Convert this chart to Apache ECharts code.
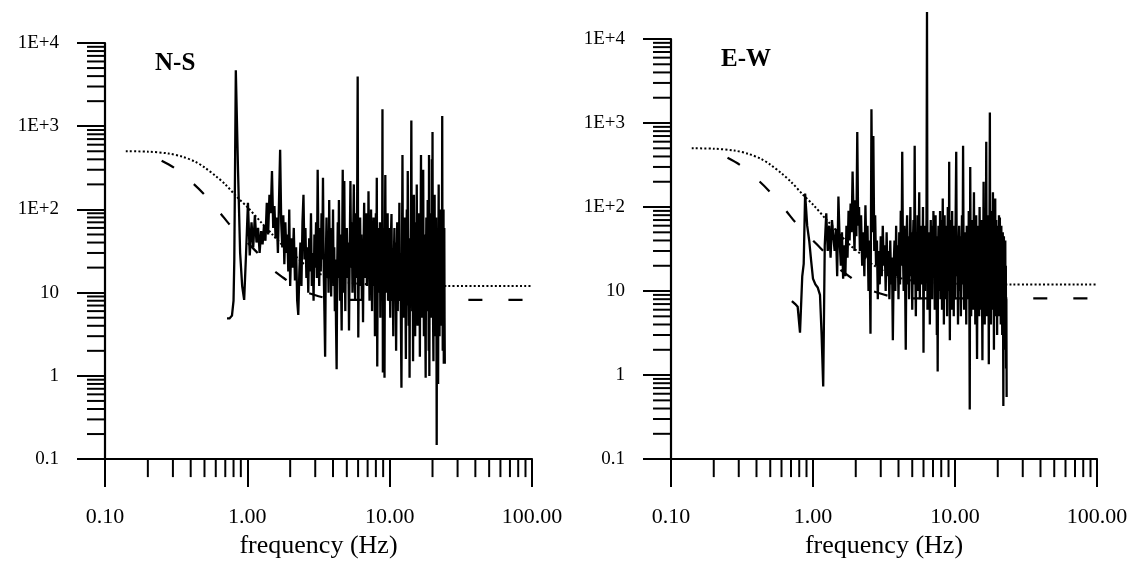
<!DOCTYPE html>
<html>
<head>
<meta charset="utf-8">
<script src="https://cdn.jsdelivr.net/npm/echarts/dist/echarts.min.js"></script>
<style>
html,body{margin:0;padding:0;background:#fff;}
#chart{width:1133px;height:564px;}
</style>
</head>
<body>
<div id="chart"></div>
<script>
// ---- data ----
const panelNames = ['N-S', 'E-W'];
const xTickLabels = ['0.10', '1.00', '10.00', '100.00'];
const yTickLabels = ['0.1', '1', '10', '1E+2', '1E+3', '1E+4'];
const minorMultipliers = [2, 3, 4, 5, 6, 7, 8, 9];
const xDecades = [0.1, 1, 10];
const yDecades = [0.1, 1, 10, 100, 1000];

// source model curves (same in both panels)
const modelDotted = [[0.14,500],[0.2,495],[0.28,470],[0.35,430],[0.43,375],[0.5,320],[0.6,252],[0.7,200],[0.85,140],[1.0,107],[1.25,70],[1.5,50],[1.8,36],[2.2,27],[2.6,21],[3.2,17],[4,14.5],[5,13.3],[7,12.6],[10,12.2],[15,12],[25,12],[100,12]];
const modelDashed = [[0.25,385],[0.31,312],[0.42,202],[0.5,150],[0.65,89],[0.75,66],[1.0,40],[1.18,30],[1.5,19],[1.8,15],[2.3,11],[2.9,9.5],[3.5,8.7],[4.9,8.2],[100,8.2]];

// N-S spectrum [frequency Hz, amplitude]
const nsSpectrum = [
[0.72,4.9],[0.75,4.9],[0.78,5.3],[0.80,8],[0.81,25],[0.83,4700],[0.86,300],[0.89,30],[0.92,12],[0.95,8.2],[0.98,30],[1.01,120],
[1.04,28],[1.07,70],[1.10,35],[1.13,85],[1.16,40],[1.19,60],[1.22,30],[1.25,55],[1.28,38],[1.31,65],[1.34,42],[1.37,120],[1.40,50],[1.43,150],[1.46,90],[1.49,290],[1.52,60],[1.55,110],[1.58,45],[1.61,80],[1.64,30],[1.67,130],[1.70,520],[1.73,70],[1.76,35],[1.79,85],[1.82,22],[1.85,70],[1.88,30],[1.91,50],[1.94,18],[1.97,100],[2.00,12],
[2.04,45],[2.08,20],[2.12,60],[2.16,14],[2.20,35],[2.24,8],[2.28,5.4],[2.32,18],[2.36,40],[2.40,12],[2.44,70],[2.48,150],[2.52,25],[2.56,60],[2.60,15],[2.64,35],[2.68,10],[2.72,45],[2.76,18],[2.80,90],[2.84,12],[2.88,30],[2.92,8],[2.96,50],[3.00,20],[3.04,70],[3.08,15],[3.12,300],[3.16,35],[3.20,12],[3.24,60],[3.28,18],[3.32,90],[3.36,25],[3.40,240],[3.44,20],[3.48,6],[3.52,1.7],[3.56,25],[3.60,80],[3.64,15],[3.68,45],[3.72,10],[3.76,130],[3.80,20],[3.84,60],[3.88,9],[3.92,40],[3.96,15],[4.00,100],[4.04,12],[4.08,35],[4.12,6],[4.16,25],[4.20,4],[4.24,1.2],[4.28,20],[4.32,70],[4.36,15],[4.40,130],[4.44,25],[4.48,8],[4.52,50],[4.56,12],[4.60,3.5],[4.64,40],[4.68,300],[4.72,30],[4.76,10],[4.80,220],[4.84,25],[4.88,6],[4.92,45],[4.96,15],
[5.00,60],[5.06,15],[5.12,40],[5.18,3.5],[5.24,30],[5.30,220],[5.36,20],[5.42,70],[5.48,10],[5.54,45],[5.60,200],[5.66,25],[5.72,8],[5.78,90],[5.84,15],[5.90,60],[5.96,3970],[6.02,2.9],[6.08,35],[6.14,12],[6.20,80],[6.26,20],[6.32,50],[6.38,8],[6.44,30],[6.50,4.4],[6.56,40],[6.62,120],[6.68,15],[6.74,60],[6.80,25],[6.86,90],[6.92,12],[6.98,45],[7.04,20],[7.10,165],[7.16,30],[7.22,8],[7.28,70],[7.34,15],[7.40,100],[7.46,25],[7.52,6],[7.58,50],[7.64,12],[7.70,80],[7.76,20],[7.82,40],[7.88,3],[7.94,30],[8.00,90],[8.06,15],[8.12,240],[8.18,1.3],[8.24,25],[8.30,60],[8.36,10],[8.42,45],[8.48,20],[8.54,70],[8.60,5],[8.66,35],[8.72,12],[8.78,50],[8.84,8],[8.90,1600],[8.96,1.1],[9.02,30],[9.08,60],[9.14,15],[9.20,0.95],[9.26,40],[9.32,260],[9.38,20],[9.44,70],[9.50,10],[9.56,45],[9.62,15],[9.68,90],[9.74,8],[9.80,35],[9.86,12],[9.92,60],
[10.0,20],[10.1,5],[10.2,45],[10.3,88],[10.4,8],[10.5,30],[10.6,3],[10.7,25],[10.8,60],[10.9,10],[11.0,40],[11.1,2],[11.2,18],[11.3,70],[11.4,6],[11.5,35],[11.6,12],[11.7,120],[11.8,8],[11.9,30],[12.0,4],[12.1,0.72],[12.2,25],[12.3,450],[12.4,15],[12.5,50],[12.6,5],[12.7,30],[12.8,80],[12.9,10],[13.0,1.6],[13.1,40],[13.2,100],[13.3,7],[13.4,290],[13.5,20],[13.6,4],[13.7,45],[13.8,0.95],[13.9,30],[14.0,12],[14.1,60],[14.2,1170],[14.3,25],[14.4,6],[14.5,40],[14.6,1.5],[14.7,35],[14.8,150],[14.9,8],[15.0,50],[15.1,3],[15.2,25],[15.3,70],[15.4,10],[15.5,200],[15.6,15],[15.7,4],[15.8,45],[15.9,12],[16.0,90],[16.1,6],[16.2,30],[16.3,1.7],[16.4,20],[16.5,60],[16.6,450],[16.7,15],[16.8,40],[16.9,5],[17.0,70],[17.1,12],[17.2,300],[17.3,20],[17.4,3],[17.5,50],[17.6,10],[17.7,35],[17.8,4],[17.9,0.95],[18.0,25],[18.1,80],[18.2,8],[18.3,45],[18.4,15],[18.5,130],[18.6,6],[18.7,35],[18.8,2],[18.9,450],[19.0,1.0],[19.1,30],[19.2,70],[19.3,10],[19.4,40],[19.5,5],[19.6,90],[19.7,15],[19.8,400],[19.9,8],[20.0,850],[20.1,20],[20.2,4],[20.3,1.5],[20.4,35],[20.5,60],[20.6,10],[20.7,150],[20.8,6],[20.9,45],[21.0,3],[21.1,25],[21.2,80],[21.3,12],[21.4,0.148],[21.5,20],[21.6,50],[21.7,5],[21.8,30],[21.9,0.8],[22.0,40],[22.1,200],[22.2,8],[22.3,60],[22.4,3],[22.5,25],[22.6,100],[22.7,10],[22.8,45],[22.9,4],[23.0,35],[23.1,80],[23.2,6],[23.3,25],[23.4,1330],[23.5,15],[23.6,2],[23.7,50],[23.8,8],[23.9,100],[24.0,1.4],[24.1,40],[24.2,60],[24.3,5],[24.4,1.4]
];

// E-W spectrum [frequency Hz, amplitude]
const ewSpectrum = [
[0.71,7.6],[0.75,7.0],[0.78,6.5],[0.81,3.2],[0.84,15],[0.86,21],[0.88,145],[0.91,60],[0.94,40],[0.97,23],[1.00,14],[1.04,12],[1.08,11],[1.12,9],[1.15,3],[1.18,0.73],[1.21,35],[1.24,84],[1.27,30],[1.30,60],[1.33,25],[1.36,70],[1.39,45],[1.42,30],[1.45,55],[1.48,15],[1.51,133],[1.54,40],[1.57,20],[1.60,50],[1.63,14],[1.66,35],[1.69,15],[1.72,60],[1.75,25],[1.78,90],[1.81,40],[1.84,110],[1.87,50],[1.90,264],[1.93,80],[1.96,30],[1.99,120],[2.02,45],[2.05,780],[2.08,60],[2.11,100],[2.14,30],[2.18,80],[2.22,20],[2.26,50],[2.30,15],[2.34,105],[2.38,25],[2.42,60],[2.46,10],[2.50,40],[2.54,3.1],[2.58,1455],[2.62,50],[2.66,700],[2.70,30],[2.74,80],[2.78,20],[2.82,40],[2.86,8],[2.90,30],[2.95,12],[3.00,45],[3.05,15],[3.10,60],[3.15,20],[3.20,35],[3.25,10],[3.30,50],[3.35,15],[3.40,30],[3.45,8],[3.50,40],[3.55,12],[3.60,25],[3.65,2.6],[3.70,20],[3.75,40],[3.80,10],[3.85,60],[3.90,15],[3.95,35],[4.00,8],[4.05,50],[4.10,12],[4.15,90],[4.20,20],[4.25,455],[4.30,30],[4.35,10],[4.40,60],[4.45,15],[4.50,2.0],[4.55,40],[4.60,80],[4.65,12],[4.70,45],[4.75,8],[4.80,30],[4.85,100],[4.90,15],[4.95,50],
[5.00,6],[5.05,35],[5.10,70],[5.15,12],[5.20,538],[5.25,20],[5.30,5],[5.35,45],[5.40,15],[5.45,80],[5.50,10],[5.55,40],[5.60,150],[5.65,8],[5.70,30],[5.75,60],[5.80,12],[5.85,45],[5.90,20],[5.95,100],[6.00,1.85],[6.05,30],[6.10,60],[6.15,10],[6.20,40],[6.25,15],[6.30,80],[6.35,21000],[6.40,6],[6.45,30],[6.50,50],[6.55,10],[6.60,45],[6.65,4],[6.70,25],[6.75,70],[6.80,12],[6.85,40],[6.90,8],[6.95,60],[7.00,20],[7.05,90],[7.10,15],[7.15,50],[7.20,6],[7.25,35],[7.30,80],[7.35,12],[7.40,45],[7.45,3],[7.50,25],[7.55,1.1],[7.60,30],[7.65,60],[7.70,10],[7.75,40],[7.80,15],[7.85,90],[7.90,8],[7.95,35],[8.00,20],[8.05,70],[8.10,6],[8.15,40],[8.20,126],[8.25,15],[8.30,50],[8.35,4],[8.40,30],[8.45,80],[8.50,12],[8.55,45],[8.60,8],[8.65,60],[8.70,20],[8.75,40],[8.80,5],[8.85,35],[8.90,100],[8.95,15],[9.00,50],[9.05,10],[9.10,345],[9.15,20],[9.20,2.6],[9.25,40],[9.30,70],[9.35,12],[9.40,45],[9.45,6],[9.50,30],[9.55,90],[9.60,10],[9.65,50],[9.70,15],[9.75,35],[9.80,5],[9.85,60],[9.90,20],[9.95,40],
[10.0,8],[10.1,70],[10.2,455],[10.3,15],[10.4,40],[10.5,4],[10.6,30],[10.7,60],[10.8,10],[10.9,45],[11.0,5],[11.1,25],[11.2,80],[11.3,12],[11.4,538],[11.5,20],[11.6,6],[11.7,50],[11.8,15],[11.9,35],[12.0,4],[12.1,60],[12.2,10],[12.3,40],[12.4,8],[12.5,90],[12.6,15],[12.7,0.39],[12.8,300],[12.9,20],[13.0,5],[13.1,45],[13.2,12],[13.3,70],[13.4,6],[13.5,35],[13.6,150],[13.7,10],[13.8,40],[13.9,4],[14.0,25],[14.1,80],[14.2,8],[14.3,1.55],[14.4,30],[14.5,60],[14.6,12],[14.7,45],[14.8,5],[14.9,100],[15.0,15],[15.1,40],[15.2,6],[15.3,30],[15.4,70],[15.5,10],[15.6,1.5],[15.7,50],[15.8,20],[15.9,200],[16.0,8],[16.1,35],[16.2,4],[16.3,60],[16.4,12],[16.5,40],[16.6,600],[16.7,15],[16.8,5],[16.9,45],[17.0,10],[17.1,80],[17.2,20],[17.3,1.35],[17.4,30],[17.5,70],[17.6,1330],[17.7,12],[17.8,40],[17.9,4],[18.0,25],[18.1,90],[18.2,8],[18.3,50],[18.4,15],[18.5,150],[18.6,6],[18.7,35],[18.8,2],[18.9,60],[19.0,10],[19.1,40],[19.2,126],[19.3,5],[19.4,30],[19.5,70],[19.6,12],[19.7,45],[19.8,3],[19.9,25],[20.0,60],[20.1,8],[20.2,40],[20.3,15],[20.4,80],[20.5,5],[20.6,35],[20.7,75],[20.8,10],[20.9,50],[21.0,4],[21.1,30],[21.2,60],[21.3,8],[21.4,40],[21.5,3],[21.6,25],[21.7,50],[21.8,6],[21.9,0.43],[22.0,20],[22.1,45],[22.2,5],[22.3,30],[22.4,3],[22.5,15],[22.6,40],[22.7,2],[22.8,20],[22.9,1.2],[23.0,8],[23.1,0.55]
];

const spectra = [nsSpectrum, ewSpectrum];

// ---- chart ----
const FONT = '"Liberation Serif", "Times New Roman", serif';
const xMinor = [], yMinor = [];
xDecades.forEach(d => minorMultipliers.forEach(m => xMinor.push(+(d * m).toPrecision(3))));
yDecades.forEach(d => minorMultipliers.forEach(m => yMinor.push(+(d * m).toPrecision(3))));

const grids = [
  {left: 105, top: 43, width: 427, height: 423},
  {left: 671, top: 39, width: 426, height: 424}
];

const xAxes = [], yAxes = [], series = [], graphics = [];
grids.forEach((g, i) => {
  xAxes.push({
    type: 'log', logBase: 10, gridIndex: i, min: 0.1, max: 100, splitNumber: 3,
    axisLine: {show: true, lineStyle: {color: '#000', width: 2.2}},
    axisTick: {show: true, length: 28, lineStyle: {color: '#000', width: 2}},
    axisLabel: {margin: 47, color: '#000', fontFamily: FONT, fontSize: 22,
      formatter: v => xTickLabels[Math.round(Math.log10(v)) + 1]},
    splitLine: {show: false},
    name: 'frequency (Hz)', nameLocation: 'middle', nameGap: 68,
    nameTextStyle: {color: '#000', fontFamily: FONT, fontSize: 26}
  });
  yAxes.push({
    type: 'log', logBase: 10, gridIndex: i, min: 0.1, max: 10000, splitNumber: 5,
    axisLine: {show: true, lineStyle: {color: '#000', width: 2.2}},
    axisTick: {show: true, length: 28, lineStyle: {color: '#000', width: 2}},
    axisLabel: {margin: 46, color: '#000', fontFamily: FONT, fontSize: 19,
      formatter: v => yTickLabels[Math.round(Math.log10(v)) + 1]},
    splitLine: {show: false}
  });
  series.push({
    type: 'custom', xAxisIndex: i, yAxisIndex: i, silent: true, clip: false,
    data: xMinor.map(v => [v, 0.1]),
    renderItem: (p, api) => {
      const c = api.coord([api.value(0), api.value(1)]);
      return {type: 'line', shape: {x1: c[0], y1: c[1], x2: c[0], y2: c[1] + 18},
        style: {stroke: '#000', lineWidth: 2}};
    }
  });
  series.push({
    type: 'custom', xAxisIndex: i, yAxisIndex: i, silent: true, clip: false,
    data: yMinor.map(v => [0.1, v]),
    renderItem: (p, api) => {
      const c = api.coord([api.value(0), api.value(1)]);
      return {type: 'line', shape: {x1: c[0], y1: c[1], x2: c[0] - 18, y2: c[1]},
        style: {stroke: '#000', lineWidth: 2}};
    }
  });
  series.push({
    type: 'line', xAxisIndex: i, yAxisIndex: i, data: modelDotted, symbol: 'none',
    smooth: 0.3, clip: false, silent: true,
    lineStyle: {color: '#000', width: 2, type: [2, 2.2]}
  });
  series.push({
    type: 'line', xAxisIndex: i, yAxisIndex: i, data: modelDashed, symbol: 'none',
    smooth: 0.3, clip: false, silent: true,
    lineStyle: {color: '#000', width: 2.2, type: [14, 26]}
  });
  series.push({
    type: 'line', xAxisIndex: i, yAxisIndex: i, data: spectra[i], symbol: 'none',
    clip: false, silent: true, sampling: null,
    lineStyle: {color: '#000', width: 2.3, join: 'miter', miterLimit: 4}
  });
  graphics.push({
    type: 'text', left: g.left + 50, top: g.top + 8,
    style: {text: panelNames[i], font: 'bold 25px ' + FONT, fill: '#000'}
  });
});

const chart = echarts.init(document.getElementById('chart'), null, {renderer: 'canvas'});
chart.setOption({
  backgroundColor: '#fff',
  animation: false,
  grid: grids,
  xAxis: xAxes,
  yAxis: yAxes,
  series: series,
  graphic: graphics
});
</script>
</body>
</html>
